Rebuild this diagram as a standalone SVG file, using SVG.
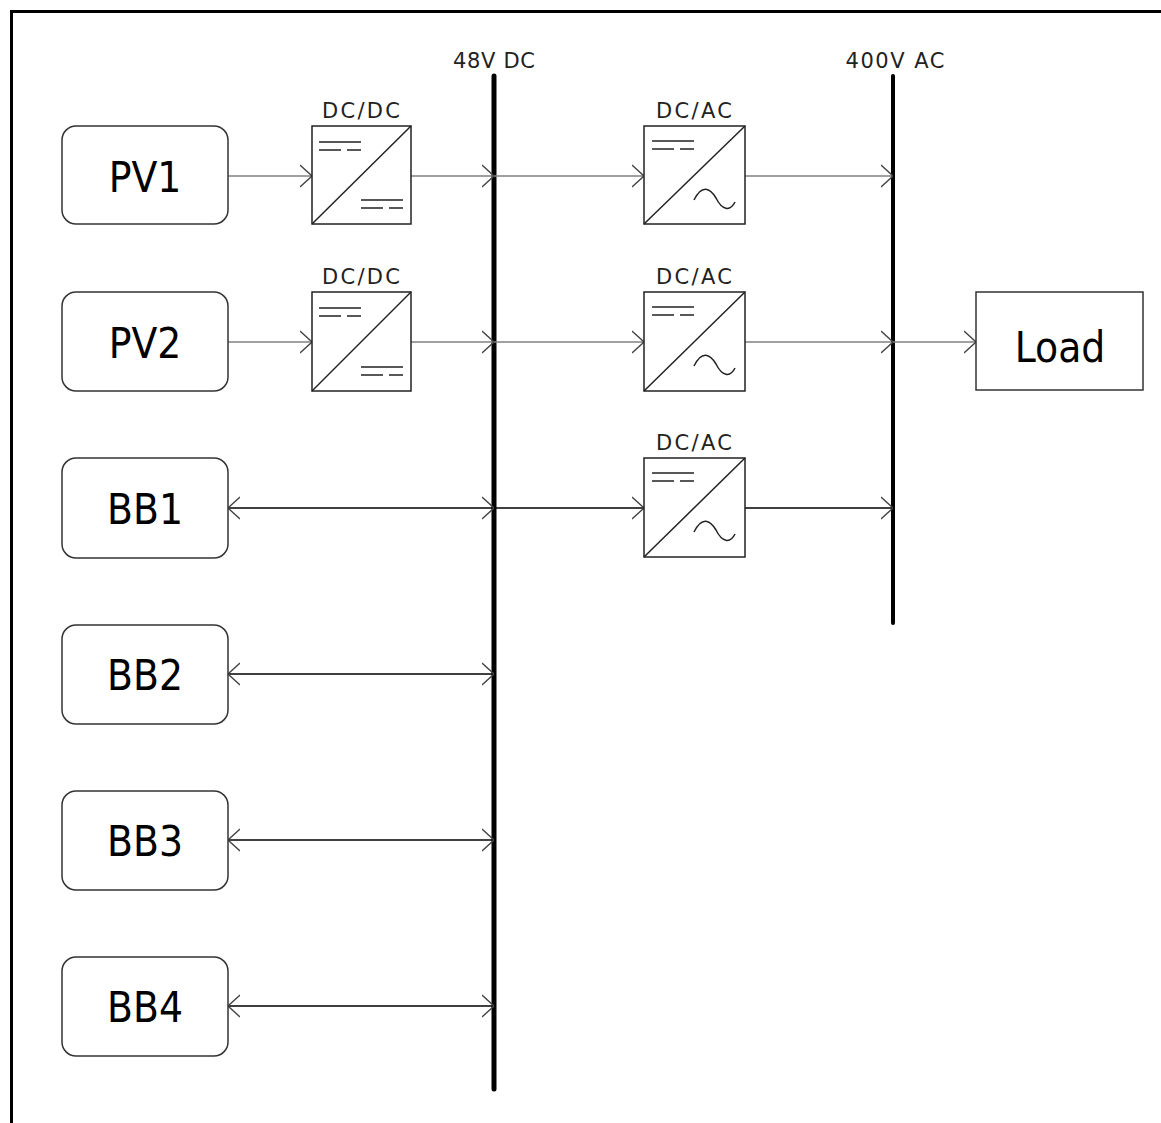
<svg xmlns="http://www.w3.org/2000/svg" width="1161" height="1123" viewBox="0 0 1161 1123">
<style>
.node{fill:#fff;stroke:#333;stroke-width:1.5}
.lbl{font-family:"DejaVu Sans Condensed","DejaVu Sans",sans-serif;font-size:42px;fill:#000;text-anchor:middle}
.sm{font-family:"DejaVu Sans","Liberation Sans",sans-serif;font-size:21px;fill:#222;text-anchor:middle}
.conv{fill:#fff;stroke:#222;stroke-width:1.5}
.sym{fill:none;stroke:#222;stroke-width:1.5}
.g{stroke:#808080;stroke-width:1.5;fill:none}
.k{stroke:#000;stroke-width:1.5;fill:none}
.bus{stroke:#000;stroke-width:5;stroke-linecap:round}
</style>
<defs>
<marker id="ah" viewBox="0 0 12 24" refX="12" refY="12" markerWidth="12" markerHeight="24" markerUnits="userSpaceOnUse" orient="auto-start-reverse">
<path d="M0,1 L12,12 L0,23" fill="none" stroke="#444" stroke-width="1.3"/>
</marker>
<g id="dcsym"><path class="sym" d="M0,0 H42 M0,8 H22 M28,8 H42"/></g>
</defs>
<rect x="11.5" y="11.5" width="1200" height="1200" fill="#fff" stroke="#000" stroke-width="3"/>

<g id="buses">
<line class="bus" x1="494" y1="76" x2="494" y2="1089"/>
<text class="sm" x="494" y="68" textLength="82" lengthAdjust="spacing">48V DC</text>
<line class="bus" x1="893" y1="76" x2="893" y2="623" style="stroke-width:4"/>
<text class="sm" x="895" y="68" textLength="99" lengthAdjust="spacing">400V AC</text>
</g>

<g id="connectors">
<line class="g" x1="228" y1="176" x2="312" y2="176" marker-end="url(#ah)"/>
<line class="g" x1="411" y1="176" x2="494" y2="176" marker-end="url(#ah)"/>
<line class="g" x1="494" y1="176" x2="644" y2="176" marker-end="url(#ah)"/>
<line class="g" x1="745" y1="176" x2="893" y2="176" marker-end="url(#ah)"/>
<line class="g" x1="228" y1="342" x2="312" y2="342" marker-end="url(#ah)"/>
<line class="g" x1="411" y1="342" x2="494" y2="342" marker-end="url(#ah)"/>
<line class="g" x1="494" y1="342" x2="644" y2="342" marker-end="url(#ah)"/>
<line class="g" x1="745" y1="342" x2="893" y2="342" marker-end="url(#ah)"/>
<line class="g" x1="893" y1="342" x2="976" y2="342" marker-end="url(#ah)"/>
<line class="k" x1="228" y1="508" x2="494" y2="508" marker-start="url(#ah)" marker-end="url(#ah)"/>
<line class="k" x1="494" y1="508" x2="644" y2="508" marker-end="url(#ah)"/>
<line class="k" x1="745" y1="508" x2="893" y2="508" marker-end="url(#ah)"/>
<line class="k" x1="228" y1="674" x2="494" y2="674" marker-start="url(#ah)" marker-end="url(#ah)"/>
<line class="k" x1="228" y1="840" x2="494" y2="840" marker-start="url(#ah)" marker-end="url(#ah)"/>
<line class="k" x1="228" y1="1006" x2="494" y2="1006" marker-start="url(#ah)" marker-end="url(#ah)"/>
</g>

<g id="pv1"><rect class="node" x="62" y="126" width="166" height="98" rx="14"/><text class="lbl" x="145" y="192">PV1</text></g>
<g id="pv2"><rect class="node" x="62" y="292" width="166" height="99" rx="14"/><text class="lbl" x="145" y="358">PV2</text></g>
<g id="bb1"><rect class="node" x="62" y="458" width="166" height="100" rx="14"/><text class="lbl" x="145" y="524">BB1</text></g>
<g id="bb2"><rect class="node" x="62" y="625" width="166" height="99" rx="14"/><text class="lbl" x="145" y="690">BB2</text></g>
<g id="bb3"><rect class="node" x="62" y="791" width="166" height="99" rx="14"/><text class="lbl" x="145" y="856">BB3</text></g>
<g id="bb4"><rect class="node" x="62" y="957" width="166" height="99" rx="14"/><text class="lbl" x="145" y="1022">BB4</text></g>

<g id="dcdc1">
<text class="sm" x="361" y="118" textLength="78" lengthAdjust="spacing">DC/DC</text>
<rect class="conv" x="312" y="126" width="99" height="98"/>
<path class="sym" d="M312,224 L411,126"/>
<use href="#dcsym" x="319" y="142"/>
<use href="#dcsym" x="361" y="200"/>
</g>
<g id="dcdc2">
<text class="sm" x="361" y="284" textLength="78" lengthAdjust="spacing">DC/DC</text>
<rect class="conv" x="312" y="292" width="99" height="99"/>
<path class="sym" d="M312,391 L411,292"/>
<use href="#dcsym" x="319" y="308"/>
<use href="#dcsym" x="361" y="367"/>
</g>
<g id="dcac1">
<text class="sm" x="694" y="118" textLength="76" lengthAdjust="spacing">DC/AC</text>
<rect class="conv" x="644" y="126" width="101" height="98"/>
<path class="sym" d="M644,224 L745,126"/>
<use href="#dcsym" x="652" y="141"/>
<path class="sym" d="M694,200 C702,184 710,188 716,198 C722,210 730,212 735,202"/>
</g>
<g id="dcac2">
<text class="sm" x="694" y="284" textLength="76" lengthAdjust="spacing">DC/AC</text>
<rect class="conv" x="644" y="292" width="101" height="99"/>
<path class="sym" d="M644,391 L745,292"/>
<use href="#dcsym" x="652" y="307"/>
<path class="sym" d="M694,366 C702,350 710,354 716,364 C722,376 730,378 735,368"/>
</g>
<g id="dcac3">
<text class="sm" x="694" y="450" textLength="76" lengthAdjust="spacing">DC/AC</text>
<rect class="conv" x="644" y="458" width="101" height="99"/>
<path class="sym" d="M644,557 L745,458"/>
<use href="#dcsym" x="652" y="473"/>
<path class="sym" d="M694,532 C702,516 710,520 716,530 C722,542 730,544 735,534"/>
</g>

<g id="load"><rect x="976" y="292" width="167" height="98" fill="#fff" stroke="#333" stroke-width="1.5"/><text class="lbl" x="1060" y="362">Load</text></g>
</svg>
